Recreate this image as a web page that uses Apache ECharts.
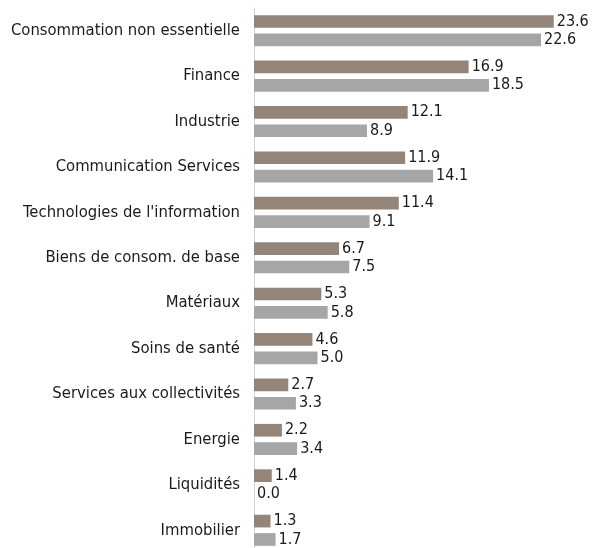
<!DOCTYPE html>
<html>
<head>
<meta charset="utf-8">
<script src="https://cdn.jsdelivr.net/npm/echarts@6/dist/echarts.min.js"></script>
<style>
html,body{margin:0;padding:0;background:#fff;}
#chart{width:592px;height:548px;}
</style>
</head>
<body>
<div id="chart"></div>
<script>
var categories = ["Consommation non essentielle","Finance","Industrie","Communication Services","Technologies de l'information","Biens de consom. de base","Matériaux","Soins de santé","Services aux collectivités","Energie","Liquidités","Immobilier"];
var seriesA = [23.6,16.9,12.1,11.9,11.4,6.7,5.3,4.6,2.7,2.2,1.4,1.3];
var seriesB = [22.6,18.5,8.9,14.1,9.1,7.5,5.8,5.0,3.3,3.4,0.0,1.7];

var FONT = "'DejaVu Sans Condensed','Liberation Sans Narrow',sans-serif";
var labelCfg = {show:true, position:'right', distance:3, color:'#1a1a1a', fontFamily:FONT, fontSize:16,
  formatter:function(p){return p.value.toFixed(1);}};

var chart = echarts.init(document.getElementById('chart'), null, {renderer:'canvas'});
chart.setOption({
  animation:false,
  grid:{left:254, top:8, width:317.5, height:545, containLabel:false, outerBoundsMode:'none'},
  xAxis:{type:'value', min:0, max:25, show:false},
  yAxis:{type:'category', data:categories, inverse:true,
    axisLine:{show:true, lineStyle:{color:'#d4d4d4', width:1}},
    axisTick:{show:false},
    axisLabel:{margin:14, color:'#1a1a1a', fontFamily:FONT, fontSize:16.5}},
  series:[
    {type:'bar', data:seriesA, barWidth:12.7, barGap:'45%', itemStyle:{color:'#94857a'}, label:labelCfg},
    {type:'bar', data:seriesB, barWidth:12.7, barGap:'45%', itemStyle:{color:'#a6a6a6'}, label:labelCfg}
  ]
});
</script>
</body>
</html>
